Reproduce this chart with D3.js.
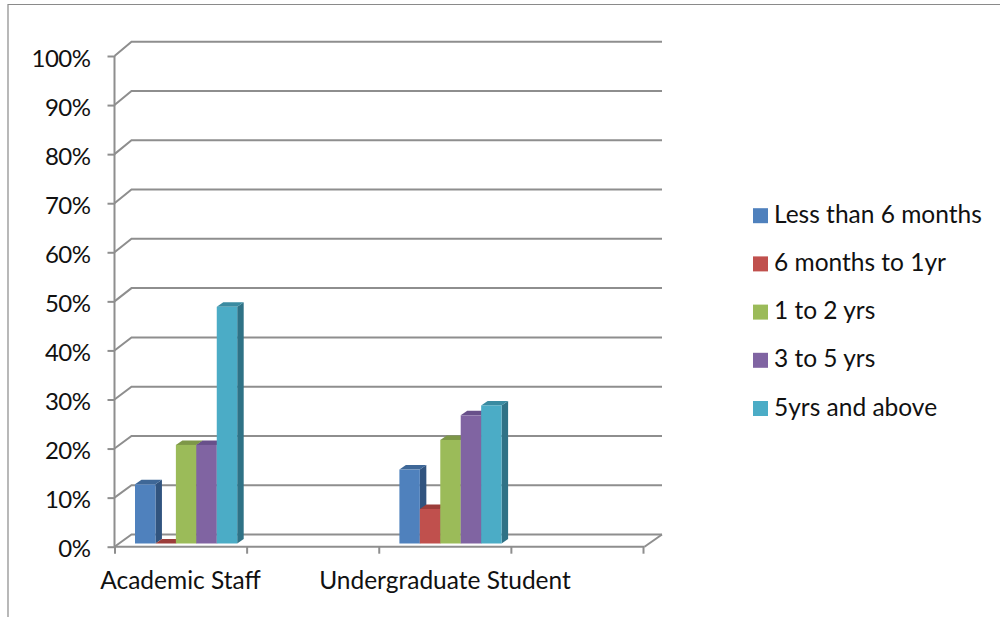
<!DOCTYPE html>
<html><head><meta charset="utf-8">
<script src="https://cdn.jsdelivr.net/npm/d3@7"></script>
<style>html,body{margin:0;padding:0;background:#fff}svg{display:block}text{font-family:Lato,"Open Sans",sans-serif;fill:#111}</style>
</head><body><svg id="c" width="1000" height="617"></svg>
<script>
const categories = ["Academic Staff", "Undergraduate Student", ""];
const seriesNames = ["Less than 6 months", "6 months to 1yr", "1 to 2 yrs", "3 to 5 yrs", "5yrs and above"];
const academicStaff = [12, 0, 20, 20, 48];
const undergraduate = [15, 7, 21, 26, 28];
const fronts = ["#4f81bd", "#c0504d", "#9bbb59", "#8064a2", "#4bacc6"];
const sides = ["#31547f", "#7f3330", "#67803a", "#55406e", "#2f7286"];
const tops = ["#3e6797", "#9c3d3a", "#7d9748", "#68508a", "#3a8ba1"];
const yTicks = d3.range(0, 101, 10);

const svg = d3.select("#c");
const barDX = 6.5, barDY = -4.5;
const y = d3.scaleLinear().domain([0, 100]).range([546.7, 56]);
const yBack = d3.scaleLinear().domain([0, 100]).range([534.5, 41.7]);
const inner = d3.scaleBand().domain(d3.range(5)).range([20, 122.2]);
const grid = "#8e8e8e";
const backL = 131.5, backR = 662;

// page frame
svg.append("path").attr("d", "M8,617V4.5H1000").attr("fill", "none").attr("stroke", "#8a8a8a").attr("stroke-width", 1.2);

// gridlines on the back wall with the slanted side wall
const g = svg.append("g").attr("fill", "none").attr("stroke", grid).attr("stroke-width", 2);
yTicks.forEach(t => {
  const p = d3.path();
  p.moveTo(114.5, y(t));
  p.lineTo(backL, yBack(t));
  p.lineTo(backR, yBack(t));
  g.append("path").attr("d", p.toString());
});
// floor
const fp = d3.path();
fp.moveTo(backR, yBack(0));
fp.lineTo(644.5, y(0));
g.append("path").attr("d", fp.toString());

// axes
const yAxis = d3.axisLeft(y).tickValues(yTicks).tickFormat(d => d + "%").tickSize(7).tickPadding(17);
const ya = svg.append("g").attr("transform", "translate(114.5,0)").call(yAxis);
ya.selectAll("path,line").attr("stroke", grid).attr("stroke-width", 2);
ya.select(".domain").attr("d", `M0,${y(100)}V${y(0)}`);
ya.selectAll("text").attr("font-size", 24).attr("dy", "0.42em").attr("letter-spacing", -0.5).style("font-family", "Lato").style("fill", "#111");

const xPos = d3.scaleLinear().domain([0, 4]).range([114.5, 643]);
const xa = svg.append("g").attr("transform", `translate(0,${y(0)})`)
  .call(d3.axisBottom(xPos).tickValues([0,1,2,3,4]).tickFormat("").tickSize(7));
xa.selectAll("path,line").attr("stroke", grid).attr("stroke-width", 2);
xa.select(".domain").attr("d", "M114.5,0H644.5");

// category labels
const labelX = d3.scaleOrdinal().domain(categories).range([180.5, 445, 0]);
svg.selectAll(".cat").data(categories.slice(0, 2)).join("text").attr("class", "cat")
  .attr("x", d => labelX(d)).attr("y", 589).attr("text-anchor", "middle").attr("font-size", 24.5).text(d => d);

// bars
const groupX = d3.scaleOrdinal().domain(categories).range([115, 379.4, 645]);
const base = 543.5;
const h = v => v * 4.93;
const bars = svg.append("g");
[[categories[0], academicStaff], [categories[1], undergraduate]].forEach(([c, vals]) => {
  vals.forEach((v, i) => {
    const l = groupX(c) + inner(i), r = l + inner.bandwidth(), t = base - h(v);
    bars.append("path").attr("fill", sides[i]).attr("d", `M${r},${t}L${r+barDX},${t+barDY}V${base+barDY}L${r},${base}Z`);
    bars.append("path").attr("fill", tops[i]).attr("d", `M${l},${t}L${l+barDX},${t+barDY}H${r+barDX}L${r},${t}Z`);
    bars.append("rect").attr("x", l).attr("y", t).attr("width", inner.bandwidth()).attr("height", h(v)).attr("fill", fronts[i]);
  });
});

// legend
const ly = d3.scalePoint().domain(seriesNames).range([215.7, 408.5]);
const leg = svg.selectAll(".leg").data(seriesNames).join("g").attr("class", "leg");
leg.append("rect").attr("x", 753).attr("y", d => ly(d) - 7.5).attr("width", 15).attr("height", 15).attr("fill", (d, i) => fronts[i]);
leg.append("text").attr("x", 774).attr("y", d => ly(d) + 7).attr("font-size", 24.5).text(d => d);
</script></body></html>
